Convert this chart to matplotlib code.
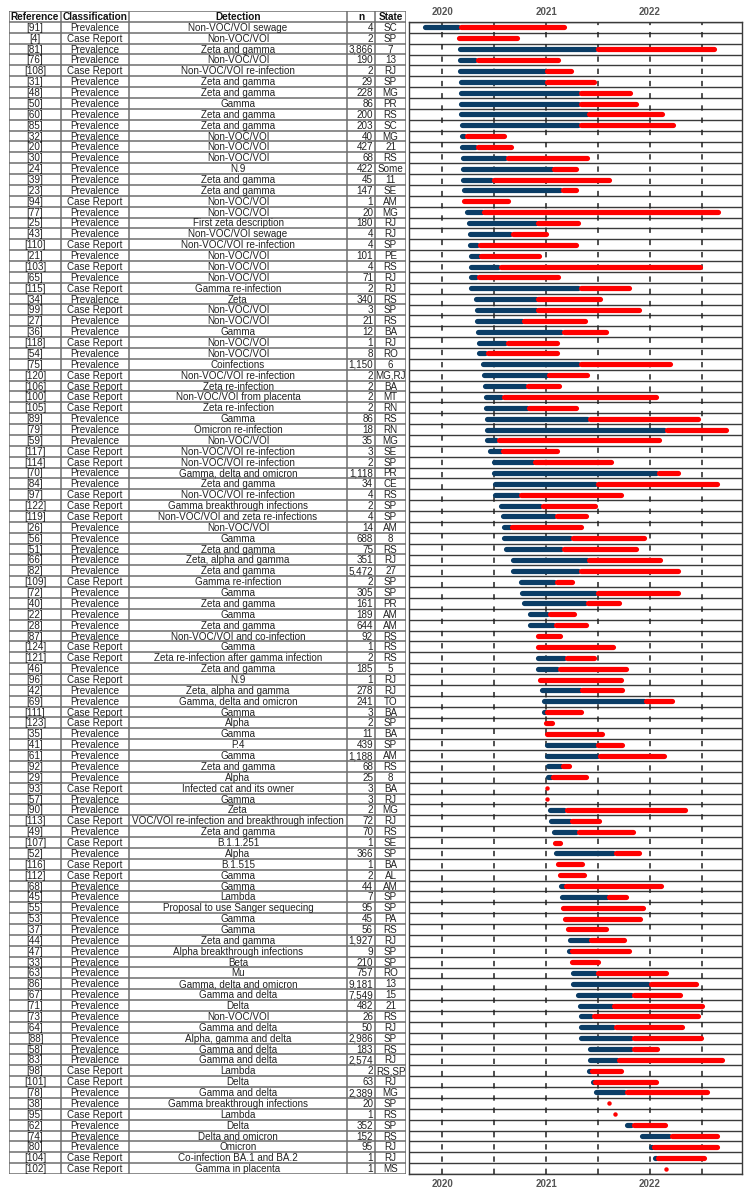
import matplotlib.pyplot as plt

plt.rcParams['font.family'] = ['Liberation Sans', 'DejaVu Sans']

PR, CR = "Prevalence", "Case Report"

refs = [91, 4, 81, 76, 108, 31, 48, 50, 60, 85,
        32, 20, 30, 24, 39, 23, 94, 77, 25, 43,
        110, 21, 103, 65, 115, 34, 99, 27, 36, 118,
        54, 75, 120, 106, 100, 105, 89, 79, 59, 117,
        114, 70, 84, 97, 122, 119, 26, 56, 51, 66,
        82, 109, 72, 40, 22, 28, 87, 124, 121, 46,
        96, 42, 69, 111, 123, 35, 41, 61, 92, 29,
        93, 57, 90, 113, 49, 107, 52, 116, 112, 68,
        45, 55, 53, 37, 44, 47, 33, 63, 86, 67,
        71, 73, 64, 88, 58, 83, 98, 101, 78, 38,
        95, 62, 74, 80, 104, 102]

classes = [PR, CR, PR, PR, CR, PR, PR, PR, PR, PR,
           PR, PR, PR, PR, PR, PR, CR, PR, PR, PR,
           CR, PR, CR, PR, CR, PR, CR, PR, PR, CR,
           PR, PR, CR, CR, CR, CR, PR, PR, PR, CR,
           CR, PR, PR, CR, CR, CR, PR, PR, PR, PR,
           PR, CR, PR, PR, PR, PR, PR, CR, CR, PR,
           CR, PR, PR, CR, CR, PR, PR, PR, PR, PR,
           CR, PR, PR, CR, PR, CR, PR, CR, CR, PR,
           PR, PR, PR, PR, PR, PR, PR, PR, PR, PR,
           PR, PR, PR, PR, PR, PR, CR, CR, PR, PR,
           CR, PR, PR, PR, CR, CR]

detections = [
    "Non-VOC/VOI sewage", "Non-VOC/VOI", "Zeta and gamma", "Non-VOC/VOI",
    "Non-VOC/VOI re-infection", "Zeta and gamma", "Zeta and gamma", "Gamma",
    "Zeta and gamma", "Zeta and gamma", "Non-VOC/VOI", "Non-VOC/VOI",
    "Non-VOC/VOI", "N.9", "Zeta and gamma", "Zeta and gamma", "Non-VOC/VOI",
    "Non-VOC/VOI", "First zeta description", "Non-VOC/VOI sewage",
    "Non-VOC/VOI re-infection", "Non-VOC/VOI", "Non-VOC/VOI", "Non-VOC/VOI",
    "Gamma re-infection", "Zeta", "Non-VOC/VOI", "Non-VOC/VOI", "Gamma",
    "Non-VOC/VOI", "Non-VOC/VOI", "Coinfections", "Non-VOC/VOI re-infection",
    "Zeta re-infection", "Non-VOC/VOI from placenta", "Zeta re-infection",
    "Gamma", "Omicron re-infection", "Non-VOC/VOI", "Non-VOC/VOI re-infection",
    "Non-VOC/VOI re-infection", "Gamma, delta and omicron", "Zeta and gamma",
    "Non-VOC/VOI re-infection", "Gamma breakthrough infections",
    "Non-VOC/VOI and zeta re-infections", "Non-VOC/VOI", "Gamma",
    "Zeta and gamma", "Zeta, alpha and gamma", "Zeta and gamma",
    "Gamma re-infection", "Gamma", "Zeta and gamma", "Gamma", "Zeta and gamma",
    "Non-VOC/VOI and co-infection", "Gamma",
    "Zeta re-infection after gamma infection", "Zeta and gamma", "N.9",
    "Zeta, alpha and gamma", "Gamma, delta and omicron", "Gamma", "Alpha",
    "Gamma", "P.4", "Gamma", "Zeta and gamma", "Alpha",
    "Infected cat and its owner", "Gamma", "Zeta",
    "VOC/VOI re-infection and breakthrough infection", "Zeta and gamma",
    "B.1.1.251", "Alpha", "B.1.515", "Gamma", "Gamma", "Lambda",
    "Proposal to use Sanger sequecing", "Gamma", "Gamma", "Zeta and gamma",
    "Alpha breakthrough infections", "Beta", "Mu", "Gamma, delta and omicron",
    "Gamma and delta", "Delta", "Non-VOC/VOI", "Gamma and delta",
    "Alpha, gamma and delta", "Gamma and delta", "Gamma and delta", "Lambda",
    "Delta", "Gamma and delta", "Gamma breakthrough infections", "Lambda",
    "Delta", "Delta and omicron", "Omicron", "Co-infection BA.1 and BA.2",
    "Gamma in placenta"]

n_samples = [4, 2, 3866, 190, 2, 29, 228, 86, 200, 203,
             40, 427, 68, 422, 45, 147, 1, 20, 180, 4,
             4, 101, 4, 71, 2, 340, 3, 21, 12, 1,
             8, 1150, 2, 2, 2, 2, 86, 18, 35, 3,
             2, 1118, 34, 4, 2, 4, 14, 688, 75, 351,
             5472, 2, 305, 161, 189, 644, 92, 1, 2, 185,
             1, 278, 241, 3, 2, 11, 439, 1188, 68, 25,
             3, 3, 2, 72, 70, 1, 366, 1, 2, 44,
             7, 95, 45, 56, 1927, 9, 210, 757, 9181, 7549,
             482, 26, 50, 2986, 183, 2574, 2, 63, 2389, 20,
             1, 352, 152, 95, 1, 1]

states = ["SC", "SP", "7", "13", "RJ", "SP", "MG", "PR", "RS", "SC",
          "MG", "21", "RS", "Some", "11", "SE", "AM", "MG", "RJ", "RJ",
          "SP", "PE", "RS", "RJ", "RJ", "RS", "SP", "RS", "BA", "RJ",
          "RO", "6", "MG,RJ", "BA", "MT", "RN", "RS", "RN", "MG", "SE",
          "SP", "PR", "CE", "RS", "SP", "SP", "AM", "8", "RS", "RJ",
          "27", "SP", "SP", "PR", "AM", "AM", "RS", "RS", "RS", "5",
          "RJ", "RJ", "TO", "BA", "SP", "BA", "SP", "AM", "RS", "8",
          "BA", "RJ", "MG", "RJ", "RS", "SE", "SP", "BA", "AL", "AM",
          "SP", "SP", "PA", "RS", "RJ", "SP", "SP", "RO", "13", "15",
          "21", "RS", "RJ", "SP", "RS", "RJ", "RS,SP", "RJ", "MG", "SP",
          "RS", "SP", "RS", "RJ", "RJ", "MS"]

# decimal years (visible extents): sampling start, sampling end, publication
start = [2019.811, 2020.138, 2020.144, 2020.147, 2020.151, 2020.154, 2020.157, 2020.160, 2020.160, 2020.163,
         2020.167, 2020.170, 2020.173, 2020.179, 2020.179, 2020.186, 2020.189, 2020.215, 2020.237, 2020.240,
         2020.247, 2020.250, 2020.250, 2020.250, 2020.256, 2020.298, 2020.308, 2020.314, 2020.317, 2020.327,
         2020.330, 2020.365, 2020.375, 2020.388, 2020.397, 2020.401, 2020.404, 2020.407, 2020.407, 2020.433,
         2020.474, 2020.478, 2020.484, 2020.487, 2020.538, 2020.561, 2020.567, 2020.571, 2020.593, 2020.654,
         2020.657, 2020.731, 2020.744, 2020.760, 2020.821, 2020.821, 2020.878, 2020.894, 2020.901, 2020.901,
         2020.920, 2020.933, 2020.958, 2020.962, 2020.978, 2020.984, 2020.984, 2020.984, 2020.990, 2020.994,
         2021.010, 2021.010, 2021.013, 2021.026, 2021.054, 2021.058, 2021.071, 2021.093, 2021.109, 2021.115,
         2021.125, 2021.141, 2021.154, 2021.167, 2021.208, 2021.212, 2021.228, 2021.231, 2021.231, 2021.282,
         2021.298, 2021.311, 2021.314, 2021.314, 2021.394, 2021.397, 2021.404, 2021.439, 2021.452, 2021.603,
         2021.663, 2021.750, 2021.894, 2021.981, 2022.029, 2022.154]

sample_end = [2020.157, 2020.138, 2021.471, 2020.317, 2020.984, 2020.984, 2021.311, 2021.311, 2021.391, 2021.311,
              2020.215, 2020.317, 2020.606, 2021.054, 2020.474, 2021.135, 2020.189, 2020.381, 2020.901, 2020.654,
              2020.340, 2020.353, 2020.542, 2020.327, 2021.311, 2020.901, 2020.901, 2020.766, 2021.144, 2020.606,
              2020.413, 2021.311, 2021.006, 2020.798, 2020.567, 2020.814, 2021.397, 2022.138, 2020.522, 2020.564,
              2020.872, 2022.061, 2021.471, 2020.734, 2020.942, 2021.080, 2020.651, 2021.231, 2021.144, 2021.391,
              2021.311, 2021.080, 2021.471, 2021.375, 2021.010, 2021.067, 2020.901, 2020.894, 2021.176, 2021.109,
              2020.920, 2021.324, 2021.939, 2020.981, 2020.978, 2020.984, 2021.471, 2021.494, 2021.141, 2021.045,
              2021.010, 2021.010, 2021.176, 2021.228, 2021.292, 2021.058, 2021.647, 2021.093, 2021.109, 2021.170,
              2021.583, 2021.141, 2021.154, 2021.189, 2021.410, 2021.224, 2021.228, 2021.471, 2021.984, 2021.817,
              2021.631, 2021.433, 2021.647, 2021.817, 2021.817, 2021.679, 2021.413, 2021.449, 2021.753, 2021.603,
              2021.663, 2021.817, 2022.183, 2022.016, 2022.048, 2022.154]

pub = [2021.199, 2020.744, 2022.641, 2021.144, 2021.263, 2021.487, 2021.837, 2021.888, 2022.138, 2022.247,
       2020.625, 2020.692, 2021.417, 2021.317, 2021.631, 2021.311, 2020.663, 2022.676, 2021.330, 2021.029,
       2021.311, 2020.955, 2022.503, 2021.141, 2021.821, 2021.548, 2021.917, 2021.397, 2021.603, 2021.135,
       2021.131, 2022.215, 2021.417, 2021.151, 2022.080, 2021.314, 2022.490, 2022.760, 2022.112, 2021.135,
       2021.647, 2022.295, 2022.673, 2021.744, 2021.494, 2021.410, 2021.359, 2021.965, 2021.888, 2022.119,
       2022.295, 2021.276, 2022.292, 2021.724, 2021.298, 2021.410, 2021.157, 2021.667, 2021.487, 2021.795,
       2021.744, 2021.760, 2022.234, 2021.359, 2021.080, 2021.561, 2021.760, 2022.157, 2021.244, 2021.410,
       2021.010, 2021.010, 2022.362, 2021.535, 2021.865, 2021.160, 2021.917, 2021.372, 2021.391, 2022.131,
       2021.792, 2021.958, 2021.929, 2021.606, 2021.779, 2021.821, 2021.522, 2022.176, 2022.468, 2022.311,
       2022.529, 2022.487, 2022.333, 2022.516, 2022.090, 2022.715, 2021.750, 2022.080, 2022.577, 2021.603,
       2021.663, 2022.173, 2022.670, 2022.670, 2022.548, 2022.154]

headers = ["Reference", "Classification", "Detection", "n", "State"]
year_ticks = [2020, 2021, 2022]
half_years = [2020, 2020.5, 2021, 2021.5, 2022, 2022.5]

NAVY = "#0b3d66"
RED = "#ff0000"
GRID = "#6e6e6e"

W, H = 751, 1192
fig = plt.figure(figsize=(W / 100, H / 100), dpi=100)
n_rows = len(refs)

# ---- table ----
ax_t = fig.add_axes([9 / W, (H - 1174) / H, 397 / W, 1163 / H])
ax_t.set_xlim(0, 397)
ax_t.set_ylim(n_rows, -1)
ax_t.axis("off")
col_edges = [0, 52, 120, 338, 366, 397]

for y in range(-1, n_rows + 1):
    ax_t.plot([0, 397], [y, y], color=GRID, lw=1.1, solid_capstyle="butt")
for x in col_edges:
    ax_t.plot([x, x], [-1, n_rows], color=GRID, lw=1.1, solid_capstyle="butt")

centers = [(col_edges[k] + col_edges[k + 1]) / 2 for k in range(5)]
for k, h in enumerate(headers):
    ax_t.text(centers[k], -0.45, h, ha="center", va="center", fontsize=7.2,
              fontweight="bold", color="#111111")

for i in range(n_rows):
    y = i + 0.55
    kw = dict(va="center", fontsize=7.1, color="#222222")
    ax_t.text(centers[0], y, f"[{refs[i]}]", ha="center", **kw)
    ax_t.text(centers[1], y, classes[i], ha="center", **kw)
    ax_t.text(centers[2], y, detections[i], ha="center", **kw)
    ax_t.text(col_edges[4] - 2, y, f"{n_samples[i]:,}", ha="right", **kw)
    ax_t.text(centers[4], y, states[i], ha="center", **kw)

# ---- timeline ----
ax = fig.add_axes([409 / W, (H - 1174) / H, 333 / W, 1152 / H])
x0 = 2020 - 33 / 104
x1 = 2020 + 300 / 104
ax.set_xlim(x0, x1)
ax.set_ylim(n_rows, 0)

for y in range(n_rows + 1):
    ax.axhline(y, color="#3a3a3a", lw=1.0, zorder=1)
for xv in half_years:
    ax.axvline(xv, color="#222222", lw=1.1, dashes=(3.5, 4.5), zorder=1)

lw_px = 5.2
lw_pt = lw_px * 0.72
r = (lw_px / 2) / 104  # cap radius in years
for i in range(n_rows):
    y = i + 0.5
    s, m, e = start[i], sample_end[i], pub[i]
    if e - s < 0.005:
        ax.plot(s, y, "o", color=RED, ms=3.2, mec="none", zorder=3)
        continue
    if m > s:
        ax.plot([s + r, m], [y, y], color=NAVY, lw=lw_pt,
                solid_capstyle="round", zorder=2)
    ax.plot([m + r, e - r], [y, y], color=RED, lw=lw_pt,
            solid_capstyle="round", zorder=3)

ax.set_yticks([])
ax.set_xticks(year_ticks)
ax.set_xticklabels([str(t) for t in year_ticks])
ax.tick_params(axis="x", top=True, labeltop=True, bottom=True, labelbottom=True,
               length=0, pad=3.5, labelsize=7, labelcolor="#555555")
for lab in ax.get_xticklabels(which="both"):
    lab.set_fontweight("bold")
for t in ax.xaxis.get_major_ticks():
    t.label2.set_fontweight("bold")
for sp in ax.spines.values():
    sp.set_color("#3a3a3a")
    sp.set_linewidth(1.0)

fig.savefig("out.png", dpi=100)
